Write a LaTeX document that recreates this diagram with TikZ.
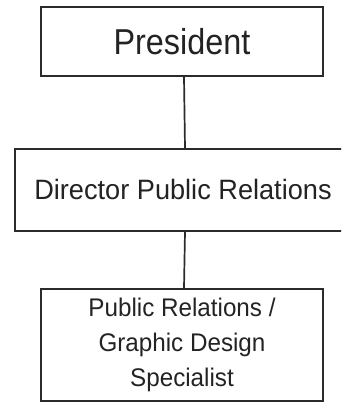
\documentclass[tikz,border=0pt]{standalone}
\usepackage{fontspec}
\setmainfont{Liberation Sans}
\usepackage{graphicx}
\definecolor{boxline}{HTML}{2B2B2B}
\definecolor{boxtext}{HTML}{232323}
\begin{document}
\begin{tikzpicture}[x=1pt,y=-1pt,
  orgbox/.style={draw=boxline,line width=2pt,rectangle,inner sep=0pt,
    text=boxtext,align=center},
  link/.style={draw=boxline,line width=1.7pt}]
  \useasboundingbox (0,0) rectangle (341,402);
  \clip (0,0) rectangle (341,402);
  % three positions, one above the other
  \node[orgbox,minimum width=282pt,minimum height=69pt,
    font=\fontsize{36}{40}\selectfont] (pres) at (182,41.5)
    {\scalebox{0.9}[1]{President}};
  \node[orgbox,minimum width=336pt,minimum height=82pt,
    font=\fontsize{28}{32}\selectfont] (dir) at (183,190)
    {\raisebox{1.5pt}{\scalebox{0.97}[1]{Director Public Relations}}};
  \node[orgbox,minimum width=282pt,minimum height=112pt,
    font=\fontsize{25.5}{34.7}\selectfont] (spec) at (182,345)
    {\scalebox{0.95}[1]{Public Relations /}\\
     \scalebox{0.95}[1]{Graphic Design}\\
     \scalebox{0.95}[1]{Specialist}};
  % reporting lines
  \draw[link] ([xshift=2pt]pres.south) -- ([xshift=2pt]dir.north);
  \draw[link] ([xshift=2pt]dir.south) -- ([xshift=2pt]spec.north);
\end{tikzpicture}
\end{document}
